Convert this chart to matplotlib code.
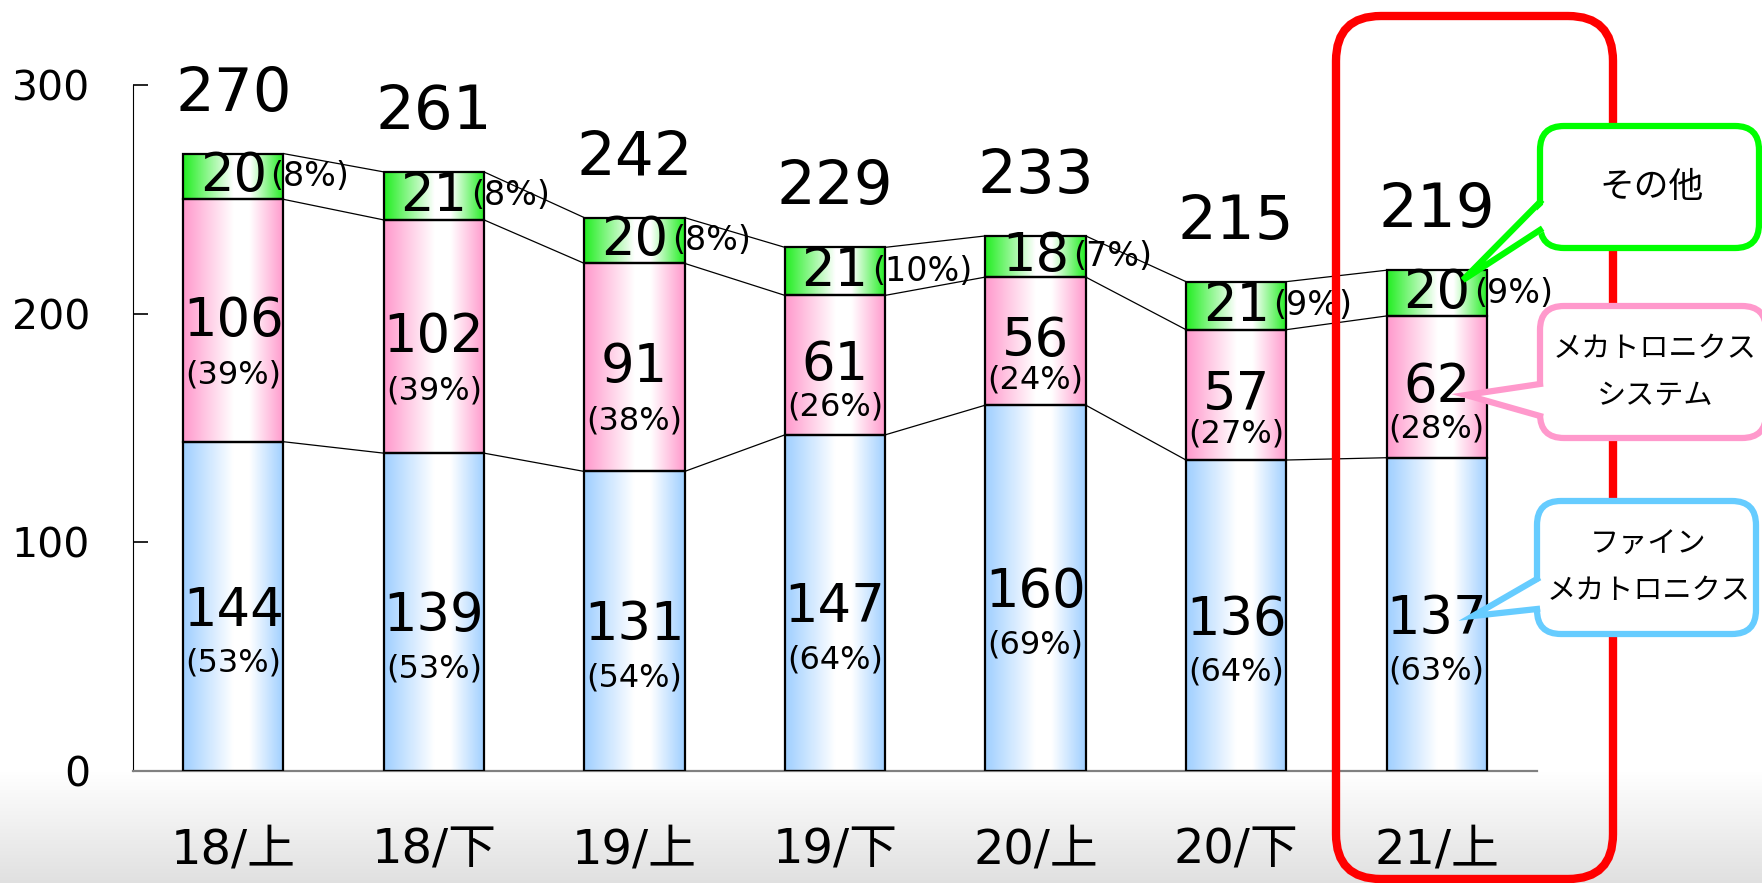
import numpy as np
import matplotlib
matplotlib.use("Agg")
import matplotlib.pyplot as plt
from matplotlib.patches import Rectangle, FancyBboxPatch, Polygon
from matplotlib.colors import to_rgb

plt.rcParams['font.family'] = ['DejaVu Sans', 'Noto Sans CJK JP']

# ---- data ----
periods = ['18/上', '18/下', '19/上', '19/下', '20/上', '20/下', '21/上']
fine_mech = [144, 139, 131, 147, 160, 136, 137]      # ファインメカトロニクス
mech_sys = [106, 102, 91, 61, 56, 57, 62]            # メカトロニクスシステム
others = [20, 21, 20, 21, 18, 21, 20]                # その他
totals = [270, 261, 242, 229, 233, 215, 219]
fine_pct = ['53%', '53%', '54%', '64%', '69%', '64%', '63%']
mech_pct = ['39%', '39%', '38%', '26%', '24%', '27%', '28%']
other_pct = ['8%', '8%', '8%', '10%', '7%', '9%', '9%']
yticks = [0, 100, 200, 300]

W, H = 1762, 883
fig = plt.figure(figsize=(W / 100, H / 100), dpi=100)

# ---- background: light grey fade at the bottom ----
bg = fig.add_axes([0, 0, 1, 1], zorder=0)
bg.axis('off')
fade = np.linspace(1.0, 0.88, 100)[:, None, None] * np.ones((1, 1, 3))
bg.imshow(fade, extent=(0, W, H, 771), aspect='auto', origin='upper')
bg.set_xlim(0, W)
bg.set_ylim(H, 0)

# ---- main chart ----
ax = fig.add_axes([133 / W, 1 - 771 / H, (1537 - 133) / W, (771 - 85) / H], zorder=1)
ax.patch.set_alpha(0)

bar_w = 0.5
x = np.arange(len(periods))


def gradient(edge_hex):
    """horizontal edge -> white -> edge fill used by the bars"""
    t = np.linspace(0, 1, 200)
    w = np.interp(t, [0, 0.5, 0.66, 1], [0, 1, 1, 0])
    edge = np.array(to_rgb(edge_hex))
    row = edge[None, :] * (1 - w[:, None]) + w[:, None]
    return row[None, :, :]


series = [
    (fine_mech, '#9fcfff'),
    (mech_sys, '#ff99cc'),
    (others, '#22ee22'),
]

bottoms = np.zeros(len(periods))
levels = []
for vals, col in series:
    vals = np.array(vals, dtype=float)
    img = gradient(col)
    for i in range(len(periods)):
        x0, x1 = x[i] - bar_w / 2, x[i] + bar_w / 2
        y0, y1 = bottoms[i], bottoms[i] + vals[i]
        ax.imshow(img, extent=(x0, x1, y0, y1), aspect='auto', zorder=2)
        ax.add_patch(Rectangle((x0, y0), bar_w, vals[i], fill=False,
                               edgecolor='black', lw=1.6, zorder=3))
    bottoms = bottoms + vals
    levels.append(bottoms.copy())

# series lines joining the stacks
for lev in levels:
    for i in range(len(periods) - 1):
        ax.plot([x[i] + bar_w / 2, x[i + 1] - bar_w / 2], [lev[i], lev[i + 1]],
                color='black', lw=0.9, zorder=2)

ax.set_xlim(-0.5, 6.5)
ax.set_ylim(0, 300)

# ---- labels ----
fine_mid = np.array(fine_mech) / 2
mech_mid = levels[0] + np.array(mech_sys) / 2
other_mid = levels[1] + np.array(others) / 2
px_per_unit = (771 - 85) / 300

for i in range(len(periods)):
    # fine mechatronics
    ax.annotate(str(fine_mech[i]), (x[i], fine_mid[i]), xytext=(0, -3),
                textcoords='offset points', ha='center', va='center', fontsize=38, zorder=4)
    ax.annotate(f'({fine_pct[i]})', (x[i], fine_mid[i]), xytext=(0, -41),
                textcoords='offset points', ha='center', va='center', fontsize=23, zorder=4)
    # mechatronics systems
    seg_px = mech_sys[i] * px_per_unit
    gap = min(54, max(39, seg_px * 0.3)) * 0.72
    ax.annotate(str(mech_sys[i]), (x[i], mech_mid[i]), xytext=(0, 0),
                textcoords='offset points', ha='center', va='center', fontsize=38, zorder=4)
    ax.annotate(f'({mech_pct[i]})', (x[i], mech_mid[i]), xytext=(0, -gap),
                textcoords='offset points', ha='center', va='center', fontsize=23, zorder=4)
    # others
    ax.annotate(str(others[i]), (x[i], other_mid[i]), xytext=(0, 0),
                textcoords='offset points', ha='center', va='center', fontsize=38, zorder=4)
    ax.annotate(f'({other_pct[i]})', (x[i] + 0.2, other_mid[i]), xytext=(-2, 0),
                textcoords='offset points', ha='left', va='center', fontsize=24, zorder=4)
    # totals
    ax.annotate(str(totals[i]), (x[i], levels[2][i]), xytext=(0, 31),
                textcoords='offset points', ha='center', va='baseline', fontsize=44,
                annotation_clip=False, zorder=4)

# ---- axes styling ----
for s in ['top', 'right']:
    ax.spines[s].set_visible(False)
ax.spines['left'].set_color('black')
ax.spines['left'].set_linewidth(0.8)
ax.spines['bottom'].set_color('#808080')
ax.spines['bottom'].set_linewidth(1.6)

ax.set_yticks(yticks)
ax.set_yticklabels([str(v) for v in yticks])
ax.tick_params(axis='y', direction='in', length=11, width=1.2, labelsize=29.5, pad=31)
ax.set_xticks(x)
ax.set_xticklabels(periods)
ax.tick_params(axis='x', length=0, labelsize=34.5, pad=40)

# ---- highlight box and callouts (figure pixel coords) ----
fg = fig.add_axes([0, 0, 1, 1], zorder=5)
fg.set_xlim(0, W)
fg.set_ylim(H, 0)
fg.axis('off')
fg.patch.set_alpha(0)

fg.add_patch(FancyBboxPatch((1336, 16), 277, 863,
                            boxstyle='round,pad=0,rounding_size=45',
                            fill=False, edgecolor='#ff0000', lw=6))

callouts = [
    # box x, y, w, h, colour, pointer base y's, tip, text, size
    (1540, 126, 219, 122, '#00ff00', (202, 230), (1463, 280), 'その他', 25),
    (1540, 306, 226, 132, '#ff99cc', (384, 416), (1466, 395), 'メカトロニクス\nシステム', 21),
    (1537, 501, 219, 133, '#66ccff', (579, 609), (1473, 616), 'ファイン\nメカトロニクス', 21),
]
for bx, by, bw, bh, col, (b1, b2), tip, label, fs in callouts:
    fg.add_patch(FancyBboxPatch((bx, by), bw, bh,
                                boxstyle='round,pad=0,rounding_size=24',
                                facecolor='white', edgecolor=col, lw=4.5))
    fg.add_patch(Polygon([(bx + 6, b1), tip, (bx + 6, b2)], closed=True,
                         facecolor='white', edgecolor='none', zorder=3))
    fg.plot([bx, tip[0], bx], [b1, tip[1], b2], color=col, lw=4.5,
            solid_joinstyle='miter', zorder=4)
    fg.text(bx + bw / 2 + 2, by + bh / 2, label, ha='center', va='center',
            fontsize=fs, family=['Noto Sans CJK JP'], linespacing=1.75, zorder=5)

fig.savefig('out.png', dpi=100)
